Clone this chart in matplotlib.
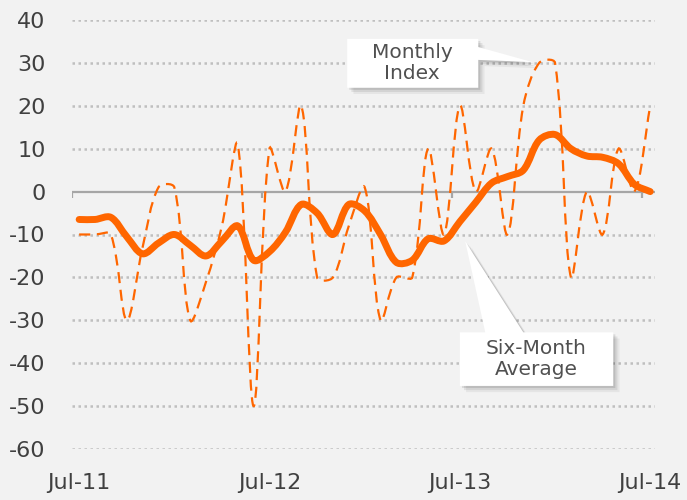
import matplotlib.pyplot as plt
import matplotlib.patheffects as pe
from matplotlib.path import Path
from matplotlib.patches import PathPatch, Polygon
import numpy as np

plt.rcParams['font.family'] = ['DejaVu Sans']
plt.rcParams['axes.unicode_minus'] = False

# monthly data, Jul-11 .. Jul-14
months = np.arange(37)
tick_pos = [0, 12, 24, 36]
tick_labels = ['Jul-11', 'Jul-12', 'Jul-13', 'Jul-14']
monthly_index = [-10, -10, -10, -30, -13, 1, 1, -30, -21, -8, 11, -50, 10,
                 0, 20, -20, -20, -8, 1, -30, -20, -20, 10, -10, 20, 0, 10,
                 -10, 20, 30, 30, -20, 0, -10, 10, 0, 20]
six_month_avg = [-6.5, -6.5, -6, -10.5, -14.5, -12, -10, -12.5, -15, -11.5, -8,
                 -16, -14, -9.5, -3, -5, -10, -3, -4.5, -10, -16.5, -16, -11,
                 -11.5, -7, -2.5, 2, 3.5, 5, 12, 13.3, 10, 8.3, 8, 6.5, 1.7, 0]

orange = '#FF6600'
bg = '#F2F2F2'
txt = '#404040'


def smooth_path(ax, x, y):
    # excel style smoothed line: bezier with tangents weighted by screen distance
    pts = np.column_stack([x, y]).astype(float)
    scr = ax.transData.transform(pts)
    n = len(pts)
    verts = [pts[0]]
    codes = [Path.MOVETO]
    for i in range(n - 1):
        i0, i3 = max(i - 1, 0), min(i + 2, n - 1)
        p0, p1, p2, p3 = pts[i0], pts[i], pts[i + 1], pts[i3]
        d01 = np.hypot(*(scr[i] - scr[i0]))
        d12 = np.hypot(*(scr[i + 1] - scr[i]))
        d23 = np.hypot(*(scr[i3] - scr[i + 1]))
        f1 = d12 / (d01 + d12) / 3 if d01 + d12 > 0 else 0
        f2 = d12 / (d12 + d23) / 3 if d12 + d23 > 0 else 0
        verts += [p1 + (p2 - p0) * f1, p2 - (p3 - p1) * f2, p2]
        codes += [Path.CURVE4] * 3
    return Path(verts, codes)


fig = plt.figure(figsize=(6.87, 5.0), dpi=100, facecolor=bg)
ax = fig.add_axes([0.1048, 0.102, 0.8486, 0.858], facecolor=bg)
ax.set_xlim(-0.45, 36.3)
ax.set_ylim(-60, 40)

yt = list(range(-60, 50, 10))
for v in yt:
    if v != 0:
        ax.axhline(v, color='#BFBFBF', lw=1.8, ls=(0, (1, 1.4)), zorder=1)
ax.axhline(0, color='#A6A6A6', lw=1.6, zorder=1)
ax.vlines([-0.45, 11.5, 23.5, 35.5], -1.4, 0, color='#A6A6A6', lw=1.6, zorder=1)

ax.add_patch(PathPatch(smooth_path(ax, months, monthly_index), fill=False,
                       ec=orange, lw=1.6, ls=(0, (5, 3)), zorder=3))
ax.add_patch(PathPatch(smooth_path(ax, months, six_month_avg), fill=False,
                       ec=orange, lw=5, capstyle='round', joinstyle='round', zorder=4))

shadow = [pe.SimplePatchShadow(offset=(1.5, -1.5), shadow_rgbFace='k', alpha=0.1),
          pe.SimplePatchShadow(offset=(3, -3), shadow_rgbFace='k', alpha=0.08),
          pe.SimplePatchShadow(offset=(4.5, -4.5), shadow_rgbFace='k', alpha=0.05),
          pe.Normal()]

call1 = [(16.9, 35.6), (25.16, 35.6), (25.16, 33.7), (28.56, 30.2),
         (25.16, 30.7), (25.16, 24.2), (16.9, 24.2)]
call2 = [(24.0, -32.8), (25.6, -32.8), (24.34, -11.6), (28.0, -32.8),
         (33.67, -32.8), (33.67, -45.3), (24.0, -45.3)]
for c in (call1, call2):
    p = Polygon(c, closed=True, fc='white', ec='none', zorder=5, clip_on=False)
    p.set_path_effects(shadow)
    ax.add_patch(p)

ax.text(21.0, 30.0, 'Monthly\nIndex', ha='center', va='center', fontsize=14.5,
        color='#505050', linespacing=1.15, zorder=6)
ax.text(28.8, -39.1, 'Six-Month\nAverage', ha='center', va='center', fontsize=14.5,
        color='#505050', linespacing=1.15, zorder=6)

ax.set_yticks(yt)
ax.set_yticklabels([str(v) for v in yt])
ax.set_xticks(tick_pos)
ax.set_xticklabels(tick_labels)
ax.tick_params(axis='y', length=0, pad=19, labelsize=16, labelcolor=txt)
ax.tick_params(axis='x', length=0, pad=17, labelsize=16, labelcolor=txt)
for s in ax.spines.values():
    s.set_visible(False)

fig.savefig('out.png', dpi=100, facecolor=bg)
